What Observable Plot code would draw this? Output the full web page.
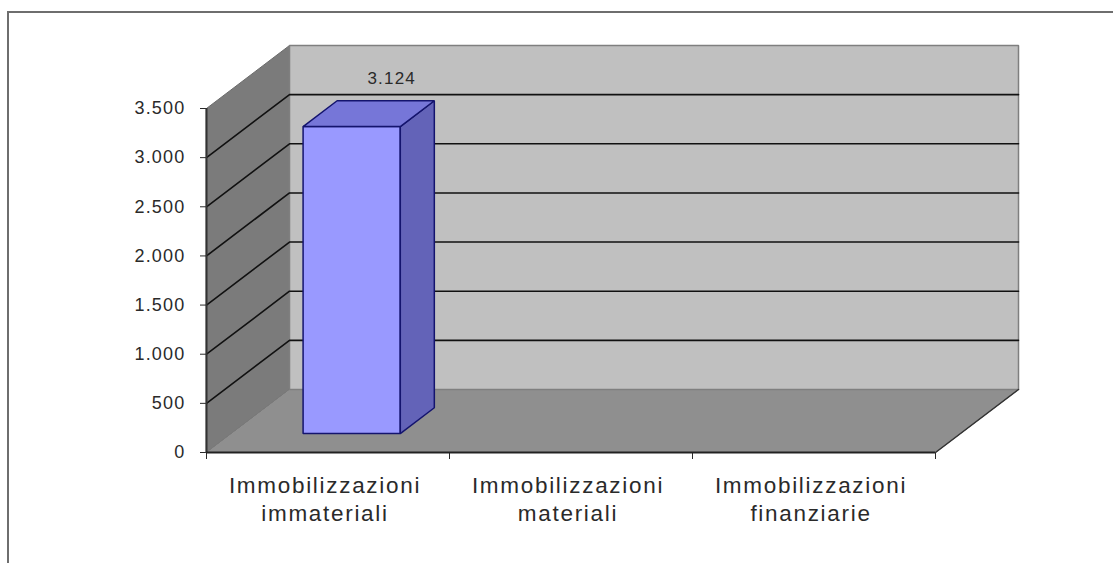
<!DOCTYPE html>
<html>
<head>
<meta charset="utf-8">
<script src="https://cdn.jsdelivr.net/npm/d3@7"></script>
<script src="https://cdn.jsdelivr.net/npm/@observablehq/plot@0.6"></script>
<style>
  body { margin: 0; background: #fff; }
  #wrap { position: relative; width: 1113px; height: 563px; overflow: hidden; background: #fff; }
  #frame { position: absolute; left: 7px; top: 11px; width: 1300px; height: 800px;
           border-left: 2px solid #6e6e6e; border-top: 2px solid #6e6e6e; }
  #chart { position: absolute; left: 0; top: 0; }
  .xlab text { letter-spacing: 1.7px; }
</style>
</head>
<body>
<div id="wrap"><div id="frame"></div><div id="chart"></div></div>
<script>
// ---- data ----
const categories = ["Immobilizzazioni\nimmateriali", "Immobilizzazioni\nmateriali", "Immobilizzazioni\nfinanziarie"];
const values = [3124, null, null];
const yTicks = [0, 500, 1000, 1500, 2000, 2500, 3000, 3500];

// ---- 3D projection constants (in scale units) ----
const DX = 0.3416;   // depth offset along x (category units)
const DY = 641;      // depth offset along y (value units)
const YMAX = 3500;
const N = categories.length;
const barA = 0.295, barB = 0.695;   // bar extent inside its category
const f1 = 0.30, f2 = 0.71;         // bar depth extent

const it = d3.formatLocale({decimal: ",", thousands: ".", grouping: [3], currency: ["€", ""]});
const fmt = it.format(",d");

const pt = (cx, v, f) => ({x: cx + f * DX, y: v + f * DY});

const sideWall = [pt(0, 0, 0), pt(0, 0, 1), pt(0, YMAX, 1), pt(0, YMAX, 0)];
const floor = [pt(0, 0, 0), pt(N, 0, 0), pt(N, 0, 1), pt(0, 0, 1)];
const backWall = [pt(0, 0, 1), pt(N, 0, 1), pt(N, YMAX, 1), pt(0, YMAX, 1)];
const gridVals = yTicks.filter(v => v > 0 && v < YMAX);
const grid = gridVals.flatMap((v, k) => [
  {...pt(0, v, 0), k}, {...pt(0, v, 1), k}, {...pt(N, v, 1), k}
]);
const floorEdge = [pt(N, 0, 0), pt(N, 0, 1)];

const bars = values.map((v, i) => ({i, v})).filter(d => d.v != null);
const barFront = bars.flatMap(d => [
  {...pt(d.i + barA, 0, f1), k: d.i}, {...pt(d.i + barB, 0, f1), k: d.i},
  {...pt(d.i + barB, d.v, f1), k: d.i}, {...pt(d.i + barA, d.v, f1), k: d.i}
]);
const barSide = bars.flatMap(d => [
  {...pt(d.i + barB, 0, f1), k: d.i}, {...pt(d.i + barB, 0, f2), k: d.i},
  {...pt(d.i + barB, d.v, f2), k: d.i}, {...pt(d.i + barB, d.v, f1), k: d.i}
]);
const barTop = bars.flatMap(d => [
  {...pt(d.i + barA, d.v, f1), k: d.i}, {...pt(d.i + barB, d.v, f1), k: d.i},
  {...pt(d.i + barB, d.v, f2), k: d.i}, {...pt(d.i + barA, d.v, f2), k: d.i}
]);

const poly = (data, fill, stroke, sw = 1) =>
  Plot.line(data, {x: "x", y: "y", z: "k", curve: "linear-closed", fill, stroke, strokeWidth: sw, strokeLinejoin: "miter"});

const chart = Plot.plot({
  width: 1113,
  height: 563,
  marginLeft: 206,
  marginRight: 178,
  marginTop: 108,
  marginBottom: 111,
  style: {fontFamily: "'Liberation Sans', Arial, sans-serif", fontSize: "18px", color: "#2a2a2a", background: "transparent", letterSpacing: "1.2px"},
  x: {domain: [0, N], ticks: d3.range(0, N + 1), tickFormat: () => "", tickSize: 7, label: null},
  y: {domain: [0, YMAX], ticks: yTicks, tickFormat: fmt, tickSize: 6, tickPadding: 15, label: null},
  marks: [
    poly(sideWall, "#7b7b7b", "#6a6a6a"),
    poly(floor, "#8f8f8f", "#7a7a7a"),
    poly(backWall, "#c0c0c0", "#7f7f7f", 1.5),
    Plot.line(grid, {x: "x", y: "y", z: "k", stroke: "#111", strokeWidth: 1.6}),
    Plot.line(floorEdge, {x: "x", y: "y", stroke: "#333", strokeWidth: 1.5}),
    poly(barFront, "#9999ff", "#14146e", 1.5),
    poly(barSide, "#6363b8", "#14146e", 1.5),
    poly(barTop, "#7676d8", "#14146e", 1.5),
    Plot.ruleX([0], {y1: 0, y2: YMAX, stroke: "#333", strokeWidth: 2}),
    Plot.ruleY([0], {x1: 0, x2: N, stroke: "#222", strokeWidth: 2}),
    Plot.text(bars, {
      x: d => d.i + (barA + barB) / 2 + f2 * DX, y: d => d.v + f2 * DY,
      text: d => fmt(d.v), dy: -22, dx: 6, fontSize: 17, fill: "#2a2a2a"
    }),
    Plot.text(categories, {
      x: (d, i) => i + 0.5, y: () => 0, text: d => d,
      lineAnchor: "top", dy: 21, dx: -3, fontSize: 22.5, lineHeight: 1.245,
      fill: "#2a2a2a", className: "xlab"
    })
  ]
});
document.getElementById("chart").appendChild(chart);
</script>
</body>
</html>
